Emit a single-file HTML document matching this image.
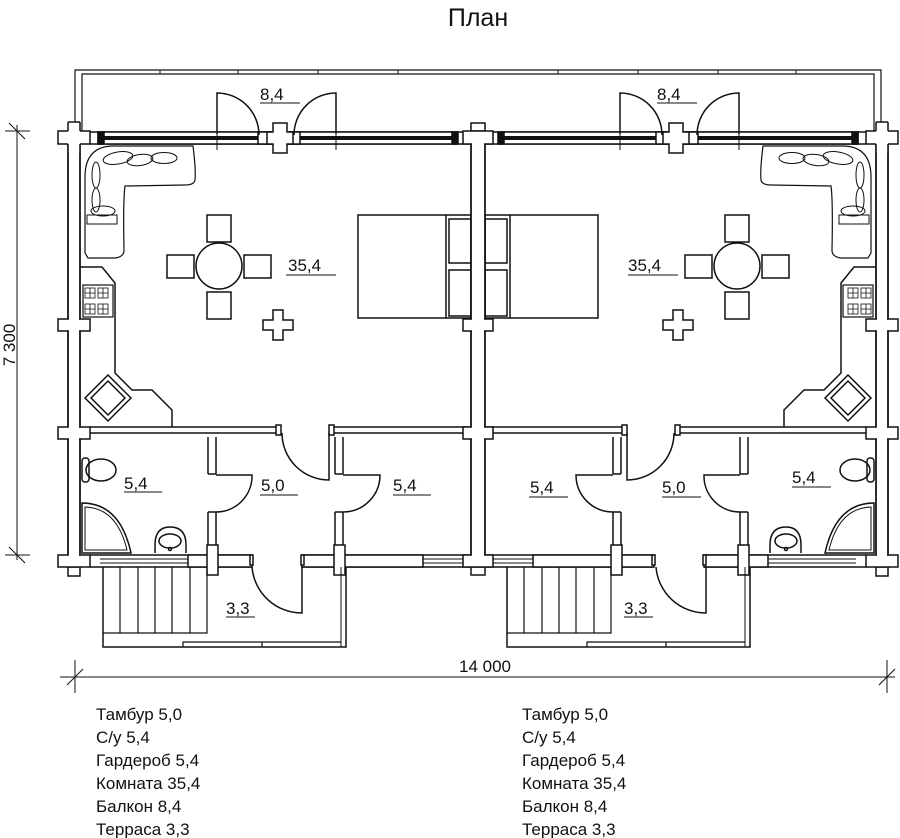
<!DOCTYPE html>
<html><head><meta charset="utf-8"><style>
html,body{margin:0;padding:0;background:#fff;}
svg{display:block;}
text{font-family:"Liberation Sans",sans-serif;fill:#111;}
</style></head><body>
<svg width="900" height="838" viewBox="0 0 900 838" xmlns="http://www.w3.org/2000/svg">
<defs>
<g id="half" fill="none" stroke="#111" stroke-width="1.5">
  <path d="M75 131 V70 H478 M82 131 V74 H478" stroke-width="1.2"/>
  <path d="M160 70 v4 M238 70 v4 M318 70 v4 M398 70 v4" stroke-width="1"/>
  <rect x="68" y="131" width="12" height="436" fill="#fff"/>
  <rect x="58" y="131" width="32" height="13" fill="#fff"/>
  <rect x="68" y="122" width="12" height="31" fill="#fff" stroke="none"/>
  <path d="M68 122 h12 M68 122 v9 M80 122 v9"/>
  <rect x="58" y="319" width="32" height="12" fill="#fff"/>
  <rect x="58" y="427" width="32" height="12" fill="#fff"/>
  <rect x="58" y="555" width="32" height="12" fill="#fff"/>
  <path d="M68 567 v9 h12 v-9"/>
  <rect x="69" y="132" width="10" height="434" fill="#fff" stroke="none"/>
  <path d="M68 144 V319 M80 144 V319 M68 331 V427 M80 331 V427 M68 439 V555 M80 439 V555"/>
  <path d="M90 132 H478 M90 144 H478"/>
  <rect x="98" y="132" width="359" height="12" fill="#fff"/>
  <rect x="98" y="136" width="359" height="4" fill="#111" stroke="none"/>
  <rect x="98" y="132" width="6" height="12" fill="#111"/>
  <rect x="452" y="132" width="6" height="12" fill="#111"/>
  <rect x="258" y="132" width="42" height="12" fill="#fff"/>
  <path d="M217 128 v22 M336 128 v22" stroke-width="1"/>
  <path d="M273 123 h14 v9 h6 v12 h-6 v9 h-14 v-9 h-6 v-12 h6 z" fill="#fff"/>
  <path d="M217 134 V93 A42 42 0 0 1 259 135"/>
  <path d="M336 134 V93 A42 42 0 0 0 294 135"/>
  <path d="M90 427 H280 M90 433 H280 M330 427 H471 M330 433 H471" />
  <rect x="276" y="425" width="5" height="10" fill="#fff"/>
  <rect x="329" y="425" width="5" height="10" fill="#fff"/>
  <path d="M90 555 H252 M90 567 H252 M302 555 H471 M302 567 H471"/>
  <rect x="188" y="555" width="64" height="12" fill="#fff"/>
  <rect x="302" y="555" width="121" height="12" fill="#fff"/>
  <path d="M100 559 H188 M100 563 H188 M423 559 H471 M423 563 H471" stroke-width="1"/>
  <rect x="250" y="555" width="3" height="10" fill="#fff"/>
  <rect x="301" y="555" width="3" height="10" fill="#fff"/>
  <path d="M208 437 V474 M216 437 V474 M208 512 V545 M216 512 V545 M208 474 h8 M208 512 h8"/>
  <rect x="207" y="545" width="11" height="30" fill="#fff"/>
  <path d="M335 437 V474 M343 437 V474 M335 512 V545 M343 512 V545 M335 474 h8 M335 512 h8"/>
  <rect x="334" y="545" width="11" height="30" fill="#fff"/>
  <path d="M216 475 H252 A36 36 0 0 1 216 512"/>
  <path d="M343 475 H380 A37 37 0 0 1 343 512"/>
  <path d="M329 433 V480 A47 47 0 0 1 282 433"/>
  <path d="M85 253 V175 Q86 147 112 146 H193 Q196 170 195 180 Q194 185 185 185 L125 186 Q123 200 124 250 Q124 257 115 258 L88 258 Z" stroke-width="1.2"/>
  <ellipse cx="118" cy="158" rx="15" ry="6" transform="rotate(-10 118 158)" stroke-width="1"/>
  <ellipse cx="140" cy="160" rx="13" ry="5.5" transform="rotate(-8 140 160)" stroke-width="1"/>
  <ellipse cx="164" cy="158" rx="13" ry="5.5" stroke-width="1"/>
  <ellipse cx="96" cy="175" rx="4" ry="13" stroke-width="1"/>
  <ellipse cx="96" cy="200" rx="4" ry="12" stroke-width="1"/>
  <rect x="87" y="215" width="30" height="9" stroke-width="1"/>
  <ellipse cx="103" cy="211" rx="12" ry="5" stroke-width="1"/>
  <circle cx="219" cy="266" r="23"/>
  <rect x="207" y="215" width="24" height="27"/>
  <rect x="207" y="292" width="24" height="27"/>
  <rect x="167" y="255" width="27" height="23"/>
  <rect x="244" y="255" width="27" height="23"/>
  <rect x="358" y="215" width="113" height="103"/>
  <path d="M446 215 V318"/>
  <rect x="449" y="219" width="22" height="44"/>
  <rect x="449" y="270" width="22" height="46"/>
  <path d="M273 310 h10 v10 h10 v10 h-10 v10 h-10 v-10 h-10 v-10 h10 z"/>
  <path d="M80 267 H102 L115 283 V373 L132 390 H152 L172 410 V427"/>
  <rect x="83" y="285" width="30" height="32" stroke-width="1.2"/>
  <g stroke-width="0.8"><rect x="85" y="288" width="10" height="10"/><rect x="98" y="288" width="10" height="10"/><rect x="85" y="304" width="10" height="10"/><rect x="98" y="304" width="10" height="10"/>
  <path d="M90 288 v10 M85 293 h10 M103 288 v10 M98 293 h10 M90 304 v10 M85 309 h10 M103 304 v10 M98 309 h10"/></g>
  <path d="M108 375 L131 398 L108 421 L85 398 Z"/>
  <path d="M108 381 L125 398 L108 415 L91 398 Z"/>
  <ellipse cx="101" cy="470" rx="15" ry="11"/>
  <rect x="82" y="458" width="7" height="24" rx="3"/>
  <path d="M82 503 Q120 503 131 553 H82 Z"/>
  <path d="M85 507 Q117 508 127 550 H85 Z" stroke-width="1"/>
  <path d="M155 553 V545 Q155 527 170 527 Q186 527 186 545 V553"/>
  <ellipse cx="170" cy="541" rx="11" ry="7"/>
  <circle cx="170" cy="549" r="1.5"/>
</g>
<g id="terrace" fill="none" stroke="#111" stroke-width="1.5">
  <path d="M103 567 V647 H346 V567"/>
  <path d="M341 567 V647" stroke-width="1"/>
  <path d="M207 567 V633 H103 M183 647 V642 H341 M262 642 V647" stroke-width="1.2"/>
  <path d="M120 567 V633 M138 567 V633 M155 567 V633 M172 567 V633 M190 567 V633" stroke-width="1.2"/>
  <path d="M302 566 V613 A50 50 0 0 1 252 567"/>
</g>
</defs>
<text x="478" y="26" font-size="25" text-anchor="middle">План</text>

<use href="#half"/>
<use href="#half" transform="translate(956 0) scale(-1 1)"/>
<use href="#terrace"/>
<use href="#terrace" transform="translate(404 0)"/>

<!-- middle wall -->
<g fill="#fff" stroke="#111" stroke-width="1.5">
  <rect x="471" y="131" width="14" height="436"/>
  <rect x="463" y="131" width="30" height="13"/>
  <rect x="463" y="319" width="30" height="12"/>
  <rect x="463" y="427" width="30" height="12"/>
  <rect x="463" y="555" width="30" height="12"/>
  <rect x="472" y="132" width="12" height="434" stroke="none"/>
  <path d="M471 144 V319 M485 144 V319 M471 331 V427 M485 331 V427 M471 439 V555 M485 439 V555 M471 567 v8 h14 v-8 M471 131 v-8 h14 v8" fill="none"/>
</g>

<g font-size="17">
<text x="260" y="100">8,4</text>
<text x="657" y="100">8,4</text>
<text x="288" y="271">35,4</text>
<text x="628" y="271">35,4</text>
<text x="124" y="489">5,4</text>
<text x="261" y="491">5,0</text>
<text x="393" y="491">5,4</text>
<text x="530" y="493">5,4</text>
<text x="662" y="493">5,0</text>
<text x="792" y="483">5,4</text>
<text x="226" y="614">3,3</text>
<text x="624" y="614">3,3</text>
</g>
<g stroke="#111" stroke-width="1">
<path d="M260 103 H300 M657 103 H697 M286 275 H336 M628 275 H678 M124 492 H162 M260 495 H298 M393 495 H431 M529 497 H568 M662 497 H701 M792 487 H831 M226 617 H255 M624 617 H653"/>
</g>

<g stroke="#111" stroke-width="1" fill="none">
<path d="M17 125 V560 M5 131 H30 M5 555 H30 M9 123 L25 139 M9 547 L25 563"/>
<path d="M60 677 H895 M75 660 V693 M887 660 V693 M67 685 L83 669 M879 685 L895 669"/>
</g>
<text x="485" y="672" font-size="17" text-anchor="middle">14 000</text>
<text transform="translate(15 345) rotate(-90)" font-size="17" text-anchor="middle">7 300</text>

<g font-size="17">
<text x="96" y="720">Тамбур 5,0</text>
<text x="96" y="743">С/у 5,4</text>
<text x="96" y="766">Гардероб 5,4</text>
<text x="96" y="789">Комната 35,4</text>
<text x="96" y="812">Балкон 8,4</text>
<text x="96" y="835">Терраса 3,3</text>
<text x="522" y="720">Тамбур 5,0</text>
<text x="522" y="743">С/у 5,4</text>
<text x="522" y="766">Гардероб 5,4</text>
<text x="522" y="789">Комната 35,4</text>
<text x="522" y="812">Балкон 8,4</text>
<text x="522" y="835">Терраса 3,3</text>
</g>
</svg>
</body></html>
